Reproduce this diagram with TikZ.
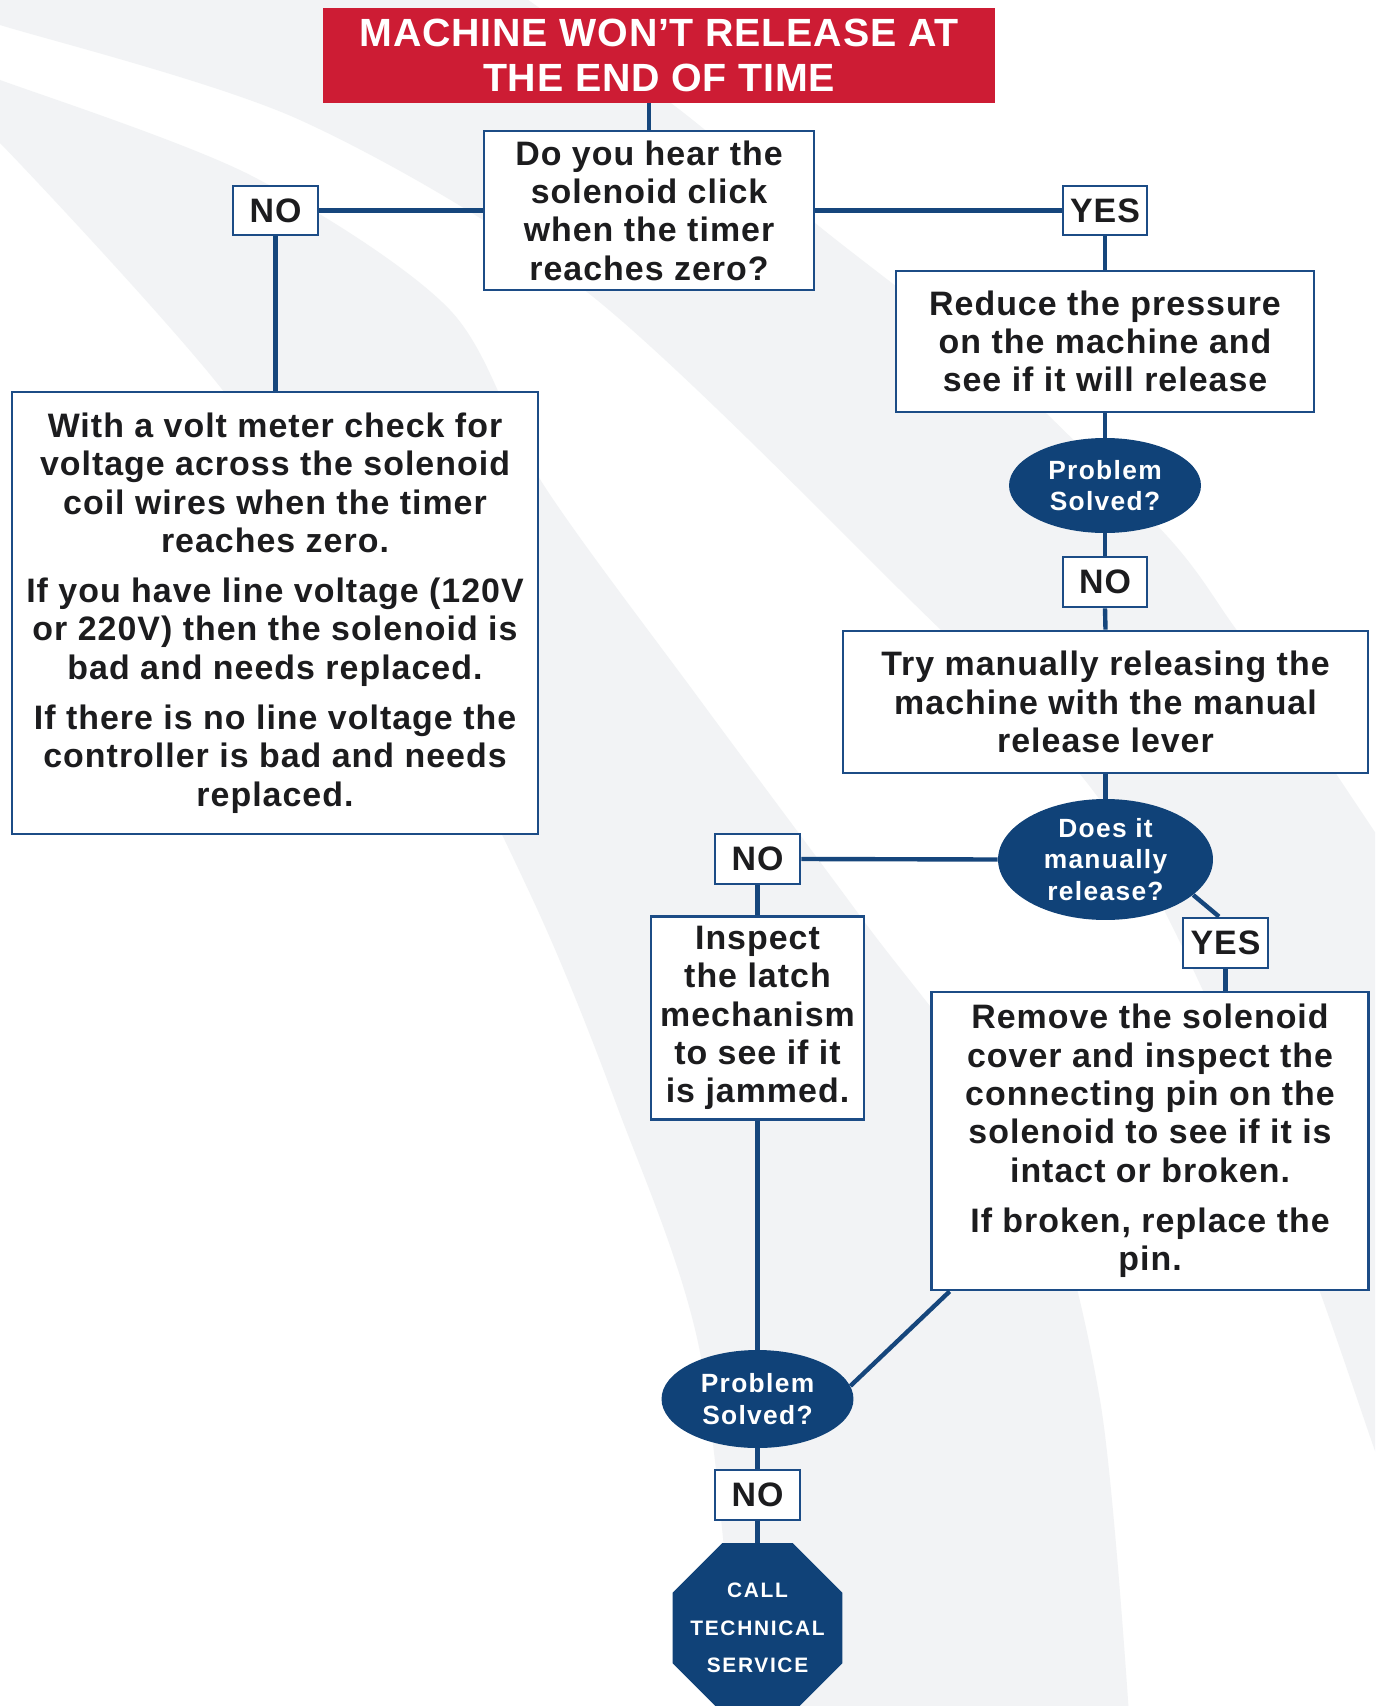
\documentclass[tikz,border=0pt]{standalone}
\usepackage{fontspec}
\setmainfont{Liberation Sans}
\newfontfamily\ffBody{Liberation Sans}[LetterSpace=3]
\newfontfamily\ffTitle{Liberation Sans}[LetterSpace=2]
\newfontfamily\ffEll{Liberation Sans}[LetterSpace=5]
\newfontfamily\ffOct{Liberation Sans}[LetterSpace=8]
\usetikzlibrary{shapes.geometric}
\definecolor{bandgrey}{RGB}{242,243,245}
\definecolor{navy}{RGB}{16,66,120}
\definecolor{boxblue}{RGB}{28,76,134}
\definecolor{linkblue}{RGB}{22,70,124}
\definecolor{titlered}{RGB}{205,28,52}
\definecolor{txt}{RGB}{28,28,30}
\newcommand\fBody{\ffBody\bfseries\fontsize{19.3}{21.8}\selectfont}
\newcommand\fTitle{\ffTitle\bfseries\fontsize{22.4}{25.3}\selectfont}
\newcommand\fEll{\ffEll\bfseries\fontsize{15}{17.9}\selectfont}
\newcommand\fOct{\ffOct\bfseries\fontsize{11.9}{21.3}\selectfont}
\tikzset{
  fbox/.style n args={2}{draw=boxblue, line width=1.6pt, fill=white, inner sep=0pt,
    align=center, text=txt, font=\fBody, minimum width=#1, minimum height=#2},
  titlebox/.style={fill=titlered, draw=none, inner sep=0pt, align=center,
    text=white, font=\fTitle, minimum width=13.44cm, minimum height=1.9cm},
  decision/.style n args={2}{ellipse, fill=navy, draw=none, inner sep=0pt,
    align=center, text=white, font=\fEll, minimum width=#1, minimum height=#2},
  stopsign/.style={regular polygon, regular polygon sides=8, fill=navy, draw=none,
    inner sep=0pt, minimum size=3.68cm},
  stoptext/.style={inner sep=0pt, align=center, text=white, font=\fOct},
  link/.style={draw=linkblue, line width=2.5pt},
  band/.style={fill=bandgrey, draw=none}
}
\begin{document}
\begin{tikzpicture}[x=0.02cm, y=-0.02cm]
\clip (0,0) rectangle (1375,1706);
\fill[white] (0,0) rectangle (1375,1706);
% background swooshes
\fill[band] plot[smooth] coordinates {(500,-20) (680,110) (820,227) (1000,370) (1167,536) (1233,625) (1300,720) (1420,900)}
  -- (1420,1520) -- plot[smooth] coordinates {(1400,1520) (1375,1451) (1320,1292) (1230,1050) (1100,800) (900,590) (587,292) (300,120) (0,25) (-20,20)}
  -- (-20,-20) -- cycle;
\fill[band] plot[smooth] coordinates {(-20,76) (0,80) (250,175) (450,310) (543,484) (700,700) (863,920) (1030,1150) (1100,1400) (1130,1730)}
  -- plot[smooth] coordinates {(740,1730) (700,1352) (617,1106) (533,900) (400,640) (217,383) (0,143) (-20,140)} -- cycle;

% nodes
\node[titlebox] (title) at (659,55.5) {MACHINE WON’T RELEASE AT\\THE END OF TIME};
\node[fbox={6.6cm}{3.18cm}] (q1) at (649,210.5) {Do you hear the\\solenoid click\\when the timer\\reaches zero?};
\node[fbox={1.7cm}{0.98cm}] (no1) at (275.5,210.5) {NO};
\node[fbox={1.68cm}{0.98cm}] (yes1) at (1105,210.5) {YES};
\node[fbox={10.52cm}{8.84cm}] (left) at (275,613) {With a volt meter check for\\voltage across the solenoid\\coil wires when the timer\\reaches zero.\\[6.8pt]If you have line voltage (120V\\or 220V) then the solenoid is\\bad and needs replaced.\\[6.8pt]If there is no line voltage the\\controller is bad and needs\\replaced.};
\node[fbox={8.36cm}{2.82cm}] (reduce) at (1105,341.5) {Reduce the pressure\\on the machine and\\see if it will release};
\node[decision={3.84cm}{1.9cm}] (ell1) at (1105,485.5) {Problem\\Solved?};
\node[fbox={1.68cm}{1.0cm}] (no2) at (1105,582) {NO};
\node[fbox={10.5cm}{2.84cm}] (try) at (1105.5,702) {Try manually releasing the\\machine with the manual\\release lever};
\node[decision={4.3cm}{2.42cm}] (ell2) at (1105.5,859.5) {Does it\\manually\\release?};
\node[fbox={1.7cm}{1.0cm}] (no3) at (757.5,859) {NO};
\node[fbox={4.26cm}{4.06cm}] (inspect) at (757.5,1018) {Inspect\\the latch\\mechanism\\to see if it\\is jammed.};
\node[fbox={1.7cm}{1.0cm}] (yes3) at (1225.5,943) {YES};
\node[fbox={8.74cm}{5.96cm}] (remove) at (1150,1141) {Remove the solenoid\\cover and inspect the\\connecting pin on the\\solenoid to see if it is\\intact or broken.\\[6.8pt]If broken, replace the\\pin.};
\node[decision={3.84cm}{1.96cm}] (ell3) at (757.5,1399) {Problem\\Solved?};
\node[fbox={1.7cm}{1.0cm}] (no4) at (757.5,1495) {NO};
\node[stopsign] (oct) at (757.5,1628) {};
\node[stoptext] (octtext) at (oct.center) {CALL\\TECHNICAL\\SERVICE};

% connectors
\draw[link] (q1.north) -- (q1.north |- title.south);
\draw[link] (q1.west) -- (no1.east);
\draw[link] (q1.east) -- (yes1.west);
\draw[link] (no1.south) -- (no1.south |- left.north);
\draw[link] (yes1.south) -- (reduce.north);
\draw[link] (reduce.south) -- (ell1.north);
\draw[link] (ell1.south) -- (no2.north);
\draw[link] (no2.south) -- (try.north);
\draw[link] (try.south) -- (ell2.north);
\draw[link] (ell2.west) -- (no3.east);
\draw[link] (no3.south) -- (inspect.north);
\draw[link] (ell2.-22) -- ([xshift=-0.13cm]yes3.north);
\draw[link] (yes3.south) -- (yes3.south |- remove.north);
\draw[link] (inspect.south) -- (ell3.north);
\draw[link] ([xshift=0.39cm]remove.south west) -- (ell3.8);
\draw[link] (ell3.south) -- (no4.north);
\draw[link] (no4.south) -- (oct.north);
\end{tikzpicture}
\end{document}
